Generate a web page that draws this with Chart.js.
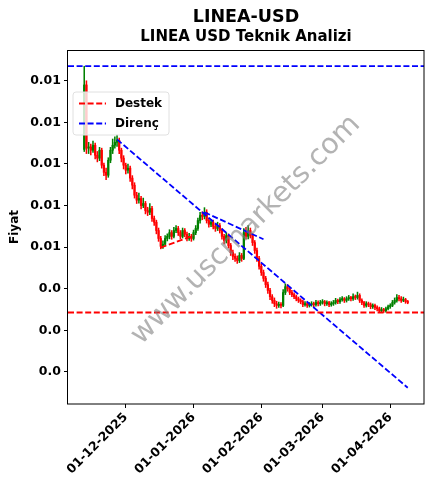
<!DOCTYPE html>
<html><head><meta charset="utf-8">
<script src="https://cdn.jsdelivr.net/npm/chart.js@4.4.1/dist/chart.umd.min.js"></script>
<style>html,body{margin:0;padding:0;background:#fff}</style>
</head><body>
<canvas id="c" width="433" height="489" style="width:433px;height:489px;display:block"></canvas>
<script>
const titleText = 'LINEA-USD';
const subtitleText = 'LINEA USD Teknik Analizi';
const watermarkText = 'www.uscmarkets.com';
const yAxisTitle = 'Fiyat';
const supportLabel = 'Destek';
const resistanceLabel = 'Direnç';

const startDate = '2025-11-12';
const opens = [0.00735,0.00890,0.00738,0.00741,0.00733,0.00745,0.00721,0.00714,0.00733,0.00697,
 0.00680,0.00673,0.00709,0.00733,0.00745,0.00752,0.00757,0.00733,0.00714,0.00697,
 0.00685,0.00690,0.00666,0.00649,0.00625,0.00613,0.00617,0.00600,0.00605,0.00588,
 0.00584,0.00593,0.00569,0.00560,0.00540,0.00521,0.00502,0.00507,0.00521,0.00526,
 0.00535,0.00526,0.00540,0.00545,0.00535,0.00526,0.00540,0.00531,0.00521,0.00526,
 0.00521,0.00535,0.00545,0.00564,0.00576,0.00574,0.00584,0.00564,0.00555,0.00560,
 0.00550,0.00545,0.00552,0.00540,0.00526,0.00516,0.00528,0.00504,0.00487,0.00478,
 0.00473,0.00468,0.00480,0.00473,0.00535,0.00526,0.00540,0.00528,0.00511,0.00492,
 0.00473,0.00454,0.00439,0.00425,0.00410,0.00396,0.00381,0.00372,0.00364,0.00360,
 0.00362,0.00360,0.00391,0.00405,0.00400,0.00391,0.00386,0.00381,0.00376,0.00372,
 0.00369,0.00362,0.00364,0.00360,0.00362,0.00364,0.00362,0.00367,0.00364,0.00367,
 0.00369,0.00364,0.00367,0.00362,0.00364,0.00367,0.00372,0.00369,0.00374,0.00376,
 0.00372,0.00376,0.00379,0.00376,0.00381,0.00379,0.00384,0.00372,0.00367,0.00360,
 0.00364,0.00362,0.00357,0.00360,0.00355,0.00352,0.00347,0.00350,0.00347,0.00352,
 0.00357,0.00360,0.00367,0.00372,0.00379,0.00376,0.00372,0.00374,0.00369];
const highs = [0.00935,0.00900,0.00752,0.00748,0.00755,0.00750,0.00730,0.00740,0.00738,0.00702,
 0.00690,0.00715,0.00740,0.00760,0.00765,0.00770,0.00762,0.00738,0.00720,0.00702,
 0.00700,0.00695,0.00672,0.00655,0.00632,0.00630,0.00622,0.00618,0.00610,0.00596,
 0.00605,0.00598,0.00575,0.00565,0.00546,0.00526,0.00515,0.00528,0.00532,0.00542,
 0.00540,0.00548,0.00552,0.00550,0.00540,0.00546,0.00545,0.00536,0.00533,0.00531,
 0.00541,0.00552,0.00570,0.00584,0.00585,0.00595,0.00590,0.00570,0.00567,0.00565,
 0.00556,0.00560,0.00557,0.00545,0.00531,0.00535,0.00532,0.00509,0.00493,0.00484,
 0.00479,0.00487,0.00485,0.00545,0.00548,0.00552,0.00546,0.00533,0.00516,0.00498,
 0.00478,0.00460,0.00445,0.00430,0.00416,0.00401,0.00386,0.00378,0.00370,0.00368,
 0.00367,0.00398,0.00412,0.00410,0.00404,0.00396,0.00390,0.00385,0.00380,0.00376,
 0.00373,0.00369,0.00368,0.00367,0.00369,0.00368,0.00372,0.00371,0.00372,0.00374,
 0.00372,0.00371,0.00370,0.00369,0.00372,0.00377,0.00375,0.00379,0.00381,0.00379,
 0.00381,0.00384,0.00382,0.00388,0.00385,0.00392,0.00388,0.00376,0.00370,0.00369,
 0.00368,0.00366,0.00364,0.00363,0.00359,0.00356,0.00355,0.00353,0.00356,0.00361,
 0.00364,0.00372,0.00378,0.00386,0.00384,0.00381,0.00380,0.00377,0.00372];
const lows = [0.00730,0.00725,0.00725,0.00722,0.00728,0.00712,0.00705,0.00708,0.00690,0.00672,
 0.00662,0.00668,0.00703,0.00725,0.00738,0.00742,0.00725,0.00705,0.00688,0.00676,
 0.00678,0.00658,0.00640,0.00618,0.00605,0.00606,0.00592,0.00595,0.00580,0.00576,
 0.00578,0.00562,0.00552,0.00532,0.00514,0.00496,0.00497,0.00503,0.00515,0.00520,
 0.00519,0.00522,0.00535,0.00528,0.00520,0.00522,0.00525,0.00515,0.00516,0.00514,
 0.00517,0.00530,0.00540,0.00558,0.00566,0.00568,0.00558,0.00548,0.00549,0.00544,
 0.00538,0.00540,0.00534,0.00519,0.00508,0.00510,0.00498,0.00480,0.00470,0.00466,
 0.00461,0.00463,0.00466,0.00470,0.00520,0.00520,0.00522,0.00504,0.00485,0.00466,
 0.00447,0.00432,0.00418,0.00403,0.00389,0.00374,0.00365,0.00357,0.00353,0.00355,
 0.00354,0.00357,0.00386,0.00394,0.00386,0.00381,0.00376,0.00371,0.00367,0.00364,
 0.00357,0.00358,0.00355,0.00356,0.00358,0.00357,0.00358,0.00359,0.00360,0.00363,
 0.00359,0.00360,0.00357,0.00358,0.00360,0.00363,0.00364,0.00365,0.00370,0.00367,
 0.00368,0.00372,0.00371,0.00372,0.00374,0.00375,0.00367,0.00362,0.00355,0.00356,
 0.00357,0.00352,0.00353,0.00350,0.00347,0.00343,0.00344,0.00343,0.00344,0.00349,
 0.00353,0.00357,0.00363,0.00368,0.00371,0.00367,0.00369,0.00365,0.00364];
const closes = [0.00890,0.00738,0.00741,0.00733,0.00745,0.00721,0.00714,0.00733,0.00697,0.00680,
 0.00673,0.00709,0.00733,0.00745,0.00752,0.00757,0.00733,0.00714,0.00697,0.00685,
 0.00690,0.00666,0.00649,0.00625,0.00613,0.00617,0.00600,0.00605,0.00588,0.00584,
 0.00593,0.00569,0.00560,0.00540,0.00521,0.00502,0.00507,0.00521,0.00526,0.00535,
 0.00526,0.00540,0.00545,0.00535,0.00526,0.00540,0.00531,0.00521,0.00526,0.00521,
 0.00535,0.00545,0.00564,0.00576,0.00574,0.00584,0.00564,0.00555,0.00560,0.00550,
 0.00545,0.00552,0.00540,0.00526,0.00516,0.00528,0.00504,0.00487,0.00478,0.00473,
 0.00468,0.00480,0.00473,0.00535,0.00526,0.00540,0.00528,0.00511,0.00492,0.00473,
 0.00454,0.00439,0.00425,0.00410,0.00396,0.00381,0.00372,0.00364,0.00360,0.00362,
 0.00360,0.00391,0.00405,0.00400,0.00391,0.00386,0.00381,0.00376,0.00372,0.00369,
 0.00362,0.00364,0.00360,0.00362,0.00364,0.00362,0.00367,0.00364,0.00367,0.00369,
 0.00364,0.00367,0.00362,0.00364,0.00367,0.00372,0.00369,0.00374,0.00376,0.00372,
 0.00376,0.00379,0.00376,0.00381,0.00379,0.00384,0.00372,0.00367,0.00360,0.00364,
 0.00362,0.00357,0.00360,0.00355,0.00352,0.00347,0.00350,0.00347,0.00352,0.00357,
 0.00360,0.00367,0.00372,0.00379,0.00376,0.00372,0.00374,0.00369,0.00367];

const supportLevel = 0.00343;
const resistanceLevel = 0.00935;
const trendDownDates = ['2025-11-27', '2026-04-09'];
const trendDownValues = [0.00759, 0.00162];
const trendShortDates = ['2026-01-06', '2026-02-02'];
const trendShortValues = [0.00584, 0.00519];
const trendUpDates = ['2025-12-17', '2026-01-01'];
const trendUpValues = [0.00499, 0.00528];

const xTickDates = ['2025-12-01', '2026-01-01', '2026-02-01', '2026-03-01', '2026-04-01'];
const xTickLabels = ['01-12-2025', '01-01-2026', '01-02-2026', '01-03-2026', '01-04-2026'];
const yTickValues = [0.002, 0.003, 0.004, 0.005, 0.006, 0.007, 0.008, 0.009];
const yTickLabels = ['0.0', '0.0', '0.0', '0.01', '0.01', '0.01', '0.01', '0.01'];

const DAY = 86400000;
const toMs = d => Date.parse(d + 'T00:00:00Z');
const t0 = toMs(startDate);
const times = closes.map((_, i) => t0 + i * DAY);
const xMin = times[0] - 7.43 * DAY;
const xMax = times[times.length - 1] + 7.43 * DAY;
const yMin = 0.00123, yMax = 0.00974;

const UP = '#008000', DOWN = '#ff0000';
const candleColors = closes.map((c, i) => c >= opens[i] ? UP : DOWN);
const FONT = 'DejaVu Sans';
const dash = [6, 2.6];

const lineDs = (label, xs, ys, color, showInLegend) => ({
  type: 'line', label, legendShow: showInLegend,
  data: xs.map((x, i) => ({x, y: ys[i]})),
  borderColor: color, borderWidth: 1.8, borderDash: dash,
  pointRadius: 0, fill: false, order: 0, tension: 0
});

const decor = {
  id: 'decor',
  afterDatasetsDraw(chart) {
    const {ctx, chartArea: a} = chart;
    ctx.save();
    ctx.translate(246, 230);
    ctx.rotate(-Math.PI / 4);
    ctx.font = '28.5px "' + FONT + '"';
    ctx.fillStyle = 'rgba(128,128,128,0.6)';
    ctx.textAlign = 'center';
    ctx.textBaseline = 'middle';
    ctx.fillText(watermarkText, 0, 0);
    ctx.restore();

    ctx.save();
    const lx = 73, ly = 92, lw = 96, lh = 43, r = 3;
    ctx.beginPath();
    ctx.moveTo(lx + r, ly); ctx.lineTo(lx + lw - r, ly); ctx.arcTo(lx + lw, ly, lx + lw, ly + r, r);
    ctx.lineTo(lx + lw, ly + lh - r); ctx.arcTo(lx + lw, ly + lh, lx + lw - r, ly + lh, r);
    ctx.lineTo(lx + r, ly + lh); ctx.arcTo(lx, ly + lh, lx, ly + lh - r, r);
    ctx.lineTo(lx, ly + r); ctx.arcTo(lx, ly, lx + r, ly, r); ctx.closePath();
    ctx.fillStyle = 'rgba(255,255,255,0.8)'; ctx.fill();
    ctx.strokeStyle = '#e0e0e0'; ctx.lineWidth = 1; ctx.stroke();
    const items = chart.data.datasets.filter(d => d.legendShow);
    items.forEach((d, k) => {
      const y = 103.5 + k * 20;
      ctx.beginPath(); ctx.setLineDash(dash); ctx.strokeStyle = d.borderColor; ctx.lineWidth = 1.8;
      ctx.moveTo(79, y); ctx.lineTo(106, y); ctx.stroke();
      ctx.setLineDash([]);
      ctx.fillStyle = '#000'; ctx.font = 'bold 12px "' + FONT + '"';
      ctx.textAlign = 'left'; ctx.textBaseline = 'middle';
      ctx.fillText(d.label, 115, y);
    });
    ctx.restore();

    ctx.save();
    ctx.strokeStyle = '#000'; ctx.lineWidth = 1;
    ctx.strokeRect(Math.round(a.left) - 0.5, Math.round(a.top) + 0.5, Math.round(a.right - a.left) + 0.5, Math.round(a.bottom - a.top) - 0.5);
    ctx.restore();
  },
  afterDraw(chart) {
    const ctx = chart.ctx;
    ctx.save();
    ctx.fillStyle = '#000'; ctx.textAlign = 'center'; ctx.textBaseline = 'middle';
    ctx.font = 'bold 17.5px "' + FONT + '"';
    ctx.fillText(titleText, 246, 17);
    ctx.font = 'bold 15px "' + FONT + '"';
    ctx.fillText(subtitleText, 246, 37.5);
    ctx.restore();
  }
};

new Chart(document.getElementById('c'), {
  type: 'bar',
  data: {
    datasets: [
      {
        type: 'bar', label: 'wick', legendShow: false,
        data: times.map((t, i) => ({x: t, y: [lows[i], highs[i]]})),
        backgroundColor: candleColors, barThickness: 0.9, grouped: false, order: 2
      },
      {
        type: 'bar', label: 'body', legendShow: false,
        data: times.map((t, i) => ({x: t, y: [opens[i], closes[i]]})),
        backgroundColor: candleColors, barThickness: 1.6, grouped: false, order: 1, minBarLength: 1
      },
      lineDs(supportLabel, [xMin, xMax], [supportLevel, supportLevel], '#ff0000', true),
      lineDs(resistanceLabel, [xMin, xMax], [resistanceLevel, resistanceLevel], '#0000ff', true),
      lineDs('trendDown', trendDownDates.map(toMs), trendDownValues, '#0000ff', false),
      lineDs('trendShort', trendShortDates.map(toMs), trendShortValues, '#0000ff', false),
      lineDs('trendUp', trendUpDates.map(toMs), trendUpValues, '#ff0000', false)
    ]
  },
  options: {
    responsive: false, animation: false, devicePixelRatio: 1,
    layout: {padding: {top: 50, right: 9, left: 0, bottom: 0}},
    plugins: {legend: {display: false}, tooltip: {enabled: false}, title: {display: false}},
    scales: {
      x: {
        type: 'linear', min: xMin, max: xMax, offset: false,
        grid: {display: true, drawOnChartArea: false, drawTicks: true, tickLength: 4, color: '#000', offset: false},
        border: {display: false},
        afterBuildTicks: s => { s.ticks = xTickDates.map(d => ({value: toMs(d)})); },
        afterFit: s => { s.height = 85; },
        ticks: {
          autoSkip: false, minRotation: 45, maxRotation: 45, padding: 2, color: '#000',
          font: {family: FONT, size: 12.5, weight: 'bold'},
          callback: (v, i) => xTickLabels[i]
        }
      },
      y: {
        type: 'linear', min: yMin, max: yMax,
        grid: {display: true, drawOnChartArea: false, drawTicks: true, tickLength: 4, color: '#000'},
        border: {display: false},
        afterBuildTicks: s => { s.ticks = yTickValues.map(v => ({value: v})); },
        afterFit: s => { s.width = 68; },
        title: {display: true, text: yAxisTitle, color: '#000', font: {family: FONT, size: 12, weight: 'bold'}, padding: {top: 8, bottom: 0}},
        ticks: {
          padding: 3, color: '#000',
          font: {family: FONT, size: 12.5, weight: 'bold'},
          callback: (v, i) => yTickLabels[i]
        }
      }
    }
  },
  plugins: [decor]
});
</script>
</body></html>
